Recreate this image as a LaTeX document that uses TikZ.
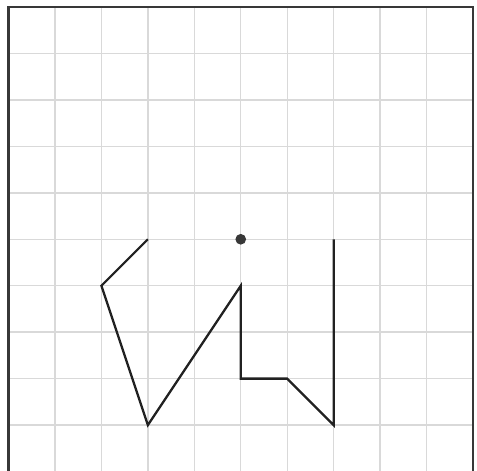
\documentclass[tikz,border=0pt]{standalone}
\usepackage{tikz}

\begin{document}
\begin{tikzpicture}[x=1cm, y=1cm, gridline/.style={draw=black!15, line width=0.85pt}, pathline/.style={draw=black!87, line width=1.4pt, line join=miter}]
	\useasboundingbox (-0.183,0.032) rectangle (10.086,10.151);
	\draw[gridline] (0,0) grid (10,10);
	\draw[black!78, line width=1.3pt] (0,0) -- (0,10) -- (10,10) -- (10,0);
	\coordinate (p1) at (3,5);
	\coordinate (p2) at (2,4);
	\coordinate (p3) at (3,1);
	\coordinate (p4) at (5,4);
	\coordinate (p5) at (5,2);
	\coordinate (p6) at (6,2);
	\coordinate (p7) at (7,1);
	\coordinate (p8) at (7,5);
	\draw[pathline] (p1) -- (p2) -- (p3) -- (p4) -- (p5) -- (p6) -- (p7) -- (p8);
	\fill[black!78] (5,5) circle (0.115);
\end{tikzpicture}
\end{document}
